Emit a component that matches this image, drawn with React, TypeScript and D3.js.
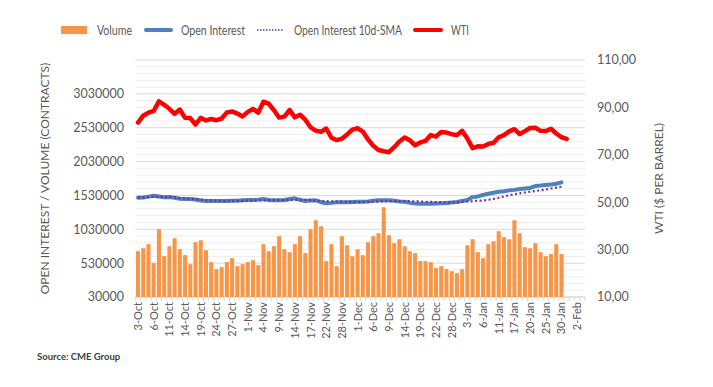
import React from 'react'
import * as d3 from 'd3'

// trading days shown on the category axis
const octDays = [3, 4, 5, 6, 7, 10, 11, 12, 13, 14, 17, 18, 19, 20, 21, 24, 25, 26, 27, 28, 31]
const novDays = [1, 2, 3, 4, 7, 8, 9, 10, 11, 14, 15, 16, 17, 18, 21, 22, 23, 25, 28, 29, 30]
const decDays = [1, 2, 5, 6, 7, 8, 9, 12, 13, 14, 15, 16, 19, 20, 21, 22, 23, 27, 28, 29, 30]
const janDays = [3, 4, 5, 6, 9, 10, 11, 12, 13, 17, 18, 19, 20, 23, 24, 25, 26, 27, 30, 31]
const febDays = [1, 2, 3]

const categories = [
  ...octDays.map((d) => `${d}-Oct`),
  ...novDays.map((d) => `${d}-Nov`),
  ...decDays.map((d) => `${d}-Dec`),
  ...janDays.map((d) => `${d}-Jan`),
  ...febDays.map((d) => `${d}-Feb`),
]

const volume = [
  706000, 750000, 810000, 530000, 1030000, 633000, 780000, 898000, 736000, 648000, 515000, 839000, 868000, 721000, 545000, 442000, 471000,
  545000, 604000, 486000, 515000, 545000, 574000, 501000, 810000, 706000, 780000, 928000, 736000, 692000, 810000, 928000, 678000, 1030000, 1163000,
  1075000, 560000, 810000, 486000, 928000, 795000, 633000, 736000, 648000, 839000, 928000, 972000, 1355000, 942000, 825000, 883000, 780000,
  706000, 678000, 560000, 560000, 545000, 457000, 486000, 442000, 412000, 383000, 442000, 795000, 883000, 692000, 604000, 810000, 854000,
  1001000, 913000, 883000, 1163000, 972000, 766000, 750000, 825000, 692000, 633000, 663000, 810000, 663000,
]

const openInterest = [
  1496000, 1500000, 1512000, 1525000, 1515000, 1502000, 1508000, 1495000, 1480000, 1477000, 1477000, 1470000, 1455000, 1448000, 1448000, 1448000,
  1448000, 1448000, 1450000, 1452000, 1458000, 1462000, 1462000, 1468000, 1477000, 1462000, 1458000, 1458000, 1462000, 1478000, 1487000, 1465000,
  1448000, 1455000, 1458000, 1430000, 1414000, 1420000, 1428000, 1428000, 1428000, 1432000, 1435000, 1437000, 1442000, 1450000, 1458000, 1460000,
  1458000, 1450000, 1440000, 1437000, 1420000, 1412000, 1408000, 1408000, 1408000, 1412000, 1414000, 1418000, 1425000, 1432000, 1448000, 1462000,
  1505000, 1515000, 1536000, 1555000, 1570000, 1585000, 1592000, 1605000, 1612000, 1625000, 1632000, 1640000, 1669000, 1675000, 1684000, 1692000,
  1703000, 1723000,
]

const openInterestSma = [
  1500000, 1502000, 1505000, 1508000, 1508000, 1508000, 1506000, 1505000, 1490000, 1485000, 1480000, 1475000, 1468000, 1462000, 1458000, 1455000,
  1452000, 1450000, 1450000, 1450000, 1450000, 1452000, 1455000, 1455000, 1458000, 1460000, 1462000, 1462000, 1462000, 1462000, 1465000, 1465000,
  1465000, 1462000, 1450000, 1448000, 1445000, 1442000, 1440000, 1438000, 1435000, 1432000, 1432000, 1432000, 1435000, 1437000, 1440000, 1442000,
  1445000, 1447000, 1448000, 1446000, 1445000, 1443000, 1440000, 1437000, 1435000, 1432000, 1430000, 1428000, 1428000, 1430000, 1435000, 1440000,
  1445000, 1452000, 1455000, 1465000, 1478000, 1495000, 1515000, 1532000, 1548000, 1561000, 1573000, 1585000, 1596000, 1605000, 1618000, 1632000,
  1646000, 1659000,
]

const wti = [
  83.6, 86.5, 87.8, 88.5, 92.6, 91.1, 89.4, 87.3, 89.1, 85.6, 85.5, 82.8, 85.6, 84.5, 85.1, 84.6, 85.3, 87.9, 88.3, 87.4, 86.2,
  88.1, 89.4, 87.8, 92.4, 91.6, 88.8, 85.7, 86.1, 88.9, 85.8, 86.9, 84.8, 81.6, 80.2, 79.7, 81.1, 77.2, 76.2, 76.8, 78.6, 80.6,
  81.2, 79.8, 76.5, 73.8, 72.0, 71.5, 71.1, 73.2, 75.6, 77.3, 76.1, 74.0, 75.2, 75.9, 78.3, 77.7, 79.6, 79.4, 78.7, 78.3, 80.1,
  76.9, 72.8, 73.6, 73.5, 74.6, 75.1, 77.4, 78.3, 79.9, 80.8, 78.7, 80.0, 81.3, 81.4, 80.1, 80.0, 81.0, 79.0, 77.4, 76.7,
]

const leftTicks = [30000, 530000, 1030000, 1530000, 2030000, 2530000, 3030000]
const rightTicks = [10, 30, 50, 70, 90, 110]

const font = 'Lato, "Open Sans", sans-serif'
const textColor = '#595959'

const App: React.FC = () => {
  const width = 713
  const height = 387
  const left = 135.4
  const right = 585
  const top = 60
  const bottom = 297

  const x = d3.scaleBand<string>().domain(categories).range([left, right]).paddingInner(0.22).paddingOuter(0.11)
  const cx = (i: number) => (x(categories[i]) as number) + x.bandwidth() / 2
  const step = x.step()

  const yL = d3.scaleLinear().domain([30000, 3530000]).range([bottom, top])
  const yR = d3.scaleLinear().domain([10, 110]).range([bottom, top])

  const gridValues = d3.range(30000, 3530001, 100000)

  const lineL = d3
    .line<number>()
    .x((_, i) => cx(i))
    .y((d) => yL(d))
  const lineR = d3
    .line<number>()
    .x((_, i) => cx(i))
    .y((d) => yR(d))

  const fmtR = (v: number) => d3.format('.2f')(v).replace('.', ',')

  return (
    <svg
      width={width}
      height={height}
      style={{ position: 'absolute', left: 0, top: 0, background: '#fff' }}
      fontFamily={font}
    >
      {/* gridlines */}
      {gridValues.map((v, i) => (
        <line
          key={'g' + i}
          x1={left}
          x2={right}
          y1={yL(v)}
          y2={yL(v)}
          stroke={i % 5 === 0 ? '#d9d9d9' : '#ededed'}
          strokeWidth={1}
        />
      ))}

      {/* x axis */}
      <line x1={left} x2={right} y1={bottom} y2={bottom} stroke="#d9d9d9" />
      {d3.range(categories.length + 1).map((i) => (
        <line
          key={'t' + i}
          x1={left + i * step}
          x2={left + i * step}
          y1={bottom}
          y2={bottom + 4}
          stroke="#d9d9d9"
        />
      ))}

      {/* volume bars */}
      {volume.map((v, i) => (
        <rect
          key={'b' + i}
          x={x(categories[i])}
          y={yL(v)}
          width={x.bandwidth()}
          height={bottom - yL(v)}
          fill="#F79646"
        />
      ))}

      {/* lines */}
      <path d={lineL(openInterest) ?? ''} fill="none" stroke="#4F81BD" strokeWidth={4} strokeLinejoin="round" strokeLinecap="round" />
      <path d={lineL(openInterestSma) ?? ''} fill="none" stroke="#7030A0" strokeWidth={2.2} strokeDasharray="2 2.5" />
      <path d={lineR(wti) ?? ''} fill="none" stroke="#FF0000" strokeWidth={4.5} strokeLinejoin="round" strokeLinecap="round" />

      {/* left tick labels */}
      {leftTicks.map((v) => (
        <text key={'l' + v} x={124} y={yL(v)} dy="0.35em" textAnchor="end" fontSize={12.5} fill={textColor}>
          {v}
        </text>
      ))}
      {/* right tick labels */}
      {rightTicks.map((v) => (
        <text key={'r' + v} x={597} y={yR(v)} dy="0.35em" textAnchor="start" fontSize={12.5} fill={textColor}>
          {fmtR(v)}
        </text>
      ))}

      {/* x tick labels */}
      {categories.map((c, i) =>
        i % 3 === 0 ? (
          <text
            key={'x' + i}
            transform={`translate(${cx(i) + 4},${bottom + 5}) rotate(-90)`}
            textAnchor="end"
            fontSize={11}
            fill={textColor}
          >
            {c}
          </text>
        ) : null
      )}

      {/* axis titles */}
      <text
        transform={`translate(49,${(top + bottom) / 2}) rotate(-90)`}
        textAnchor="middle"
        fontSize={12}
        fill={textColor}
      >
        OPEN INTEREST / VOLUME (CONTRACTS)
      </text>
      <text
        transform={`translate(663,${(top + bottom) / 2}) rotate(-90)`}
        textAnchor="middle"
        fontSize={12}
        fill={textColor}
      >
        WTI ($ PER BARREL)
      </text>

      {/* legend */}
      <g fontSize={13.5} fill={textColor}>
        <rect x={61} y={26} width={26} height={8} fill="#F79646" />
        <text x={97} y={30} dy="0.35em" textLength={35} lengthAdjust="spacingAndGlyphs">Volume</text>
        <line x1={146} x2={171} y1={30} y2={30} stroke="#4F81BD" strokeWidth={4} strokeLinecap="round" />
        <text x={181} y={30} dy="0.35em" textLength={64} lengthAdjust="spacingAndGlyphs">Open Interest</text>
        <line x1={257} x2={283} y1={30} y2={30} stroke="#7030A0" strokeWidth={1.5} strokeDasharray="1.5 1.5" />
        <text x={294} y={30} dy="0.35em" textLength={108} lengthAdjust="spacingAndGlyphs">Open Interest 10d-SMA</text>
        <line x1={415} x2={441} y1={30} y2={30} stroke="#FF0000" strokeWidth={4} strokeLinecap="round" />
        <text x={451} y={30} dy="0.35em" textLength={18} lengthAdjust="spacingAndGlyphs">WTI</text>
      </g>

      <text x={37} y={360} fontSize={9.5} fontWeight="bold" fill="#404040">
        Source: CME Group
      </text>
    </svg>
  )
}

export default App
